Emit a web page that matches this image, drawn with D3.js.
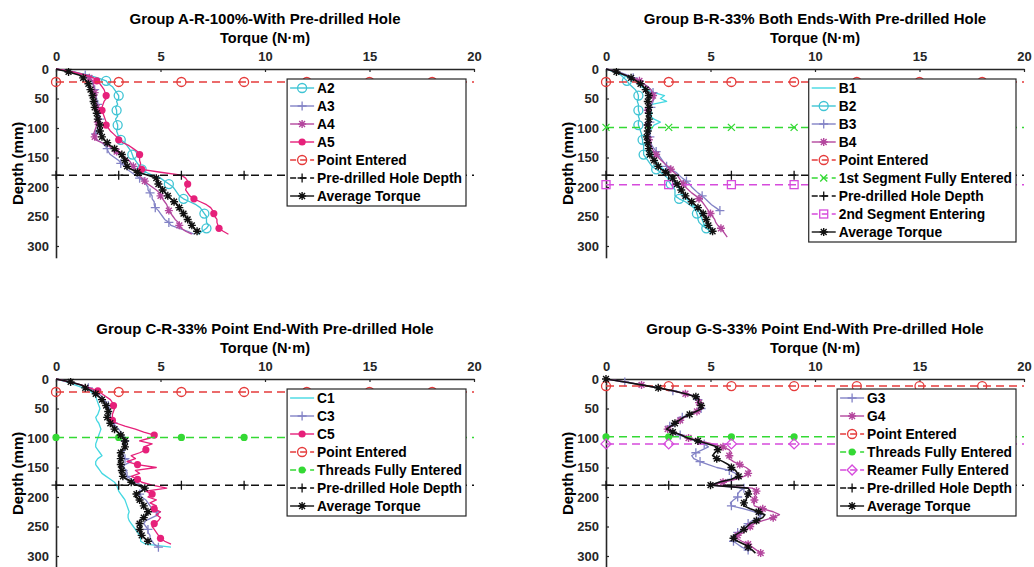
<!DOCTYPE html>
<html><head><meta charset="utf-8">
<script src="https://cdn.jsdelivr.net/npm/d3@7"></script>
<style>
html,body{margin:0;padding:0;background:#fff;}
svg{display:block;font-family:"Liberation Sans",Arial,sans-serif;font-weight:bold;}
</style></head>
<body><svg id="c" width="1034" height="567"></svg>
<script>
// ---------- data (depth step 5 mm, torque in N·m) ----------
const depthStep = 5;
const xTicks = [0, 5, 10, 15, 20];
const yTicks = [0, 50, 100, 150, 200, 250, 300];
const refMarkTorque = [0, 3, 6, 9, 12, 15, 18];

const titles = [
  "Group A-R-100%-With Pre-drilled Hole",
  "Group B-R-33% Both Ends-With Pre-drilled Hole",
  "Group C-R-33% Point End-With Pre-drilled Hole",
  "Group G-S-33% Point End-With Pre-drilled Hole"
];

// Group A
const A2 = [0,0.8,1.5,2.0,2.4,2.5,2.7,2.8,2.9,3.0,3.0,2.9,2.95,2.85,2.9,2.9,2.95,2.85,2.9,2.95,2.95,2.9,2.95,3.0,3.1,3.3,3.4,3.5,3.6,3.65,3.7,3.8,3.9,4.0,4.1,4.3,4.6,5.0,5.2,5.4,5.6,5.7,5.8,5.9,6.1,6.4,6.7,6.9,7.0,7.1,7.2,7.2,7.2,7.3,7.2,7.0,6.8];
const A3 = [0,0.9,1.4,1.6,1.7,1.75,1.8,1.85,1.9,1.9,1.95,1.95,2.0,2.0,2.0,2.05,2.05,2.1,2.1,2.0,2.0,1.95,1.9,1.85,1.95,2.2,2.35,2.45,2.5,2.6,2.8,3.0,3.1,3.3,3.4,3.6,3.8,4.0,4.2,4.3,4.4,4.4,4.5,4.6,4.6,4.7,4.7,4.75,4.9,5.0,5.1,5.2,5.4,5.5,5.9,6.3,6.6];
const A4 = [0,0.8,1.3,1.6,1.75,1.8,1.8,1.85,1.85,1.9,1.9,1.9,1.95,1.95,2.0,2.0,2.0,2.05,2.0,1.95,1.9,1.85,1.8,1.85,1.9,2.2,2.5,2.7,2.9,3.1,3.3,3.5,3.6,3.7,3.8,3.9,4.0,4.1,4.25,4.4,4.6,4.8,4.95,5.0,5.1,5.2,5.3,5.35,5.4,5.5,5.6,5.7,5.85,5.9,6.0,6.2,6.5];
const A5 = [0,0.8,1.4,1.8,1.95,2.1,2.2,2.3,2.35,2.4,2.4,2.3,2.25,2.2,2.2,2.25,2.3,2.35,2.4,2.4,2.5,2.6,2.75,2.9,3.0,3.2,3.5,3.7,3.9,4.0,4.0,4.0,4.05,4.0,4.1,5.0,6.0,6.2,6.3,6.3,6.25,6.2,6.3,6.4,6.6,6.9,7.2,7.4,7.5,7.55,7.6,7.7,7.7,7.75,7.8,8.0,8.25];
const avgA = [0,0.6,1.1,1.3,1.45,1.55,1.6,1.65,1.7,1.75,1.78,1.8,1.85,1.85,1.9,1.95,1.95,2.0,2.05,2.1,2.1,2.1,2.15,2.2,2.3,2.45,2.6,2.8,3.0,3.15,3.25,3.3,3.3,3.4,3.6,3.9,4.4,4.8,4.85,4.9,5.0,5.1,5.25,5.35,5.5,5.65,5.8,5.9,6.0,6.1,6.2,6.3,6.4,6.5,6.6,6.75];
const refDepthA = [22, 180];

// Group B
const B1 = [0,0.4,0.8,1.1,1.3,1.5,1.7,1.9,2.3,2.8,2.6,2.9,2.2,2.0,2.1,2.2,2.1,2.3,2.6,2.3,2.2,2.1,2.1,2.0,2.0,2.05,2.1,2.1,2.15,2.2,2.25,2.35,2.45,2.6,2.75,2.9,3.05,3.15,3.25,3.35,3.45,3.55,3.6,3.7,3.85,4.0,4.15,4.3,4.4,4.5,4.55,4.6,4.65,4.7,4.8,5.0,5.0];
const B2 = [0,0.4,0.7,0.85,1.0,1.1,1.25,1.4,1.5,1.55,1.55,1.5,1.55,1.55,1.55,1.6,1.55,1.6,1.55,1.55,1.6,1.65,1.7,1.7,1.75,1.75,1.8,1.8,1.8,1.8,1.9,2.0,2.1,2.2,2.4,2.6,2.8,2.95,3.0,3.1,3.2,3.3,3.3,3.3,3.5,3.8,4.0,4.2,4.3,4.35,4.4,4.4,4.45,4.6,4.8,5.0];
const B3 = [0,0.6,1.0,1.3,1.55,1.8,2.0,2.15,2.25,2.35,2.3,2.25,2.2,2.15,2.1,2.1,2.1,2.1,2.1,2.1,2.1,2.1,2.1,2.1,2.1,2.15,2.2,2.3,2.4,2.5,2.6,2.7,2.8,2.9,3.1,3.35,3.5,3.65,3.85,4.0,4.1,4.25,4.4,4.6,4.75,4.9,5.05,5.25,5.45];
const B4 = [0,0.5,0.9,1.3,1.6,1.8,2.0,2.15,2.2,2.25,2.3,2.2,2.1,2.05,2.0,2.0,2.0,2.0,2.0,2.0,2.05,2.05,2.05,2.05,2.05,2.1,2.15,2.2,2.3,2.4,2.5,2.65,2.8,2.95,3.1,3.25,3.4,3.5,3.6,3.7,3.8,3.95,4.1,4.3,4.45,4.6,4.7,4.8,4.9,5.0,5.1,5.2,5.25,5.35,5.5,5.6,5.7,5.8];
const avgB = [0,0.5,0.9,1.2,1.45,1.65,1.8,1.9,2.0,2.05,2.05,2.0,2.0,2.05,2.0,2.05,2.0,2.05,2.05,2.0,2.05,2.0,2.0,1.95,1.95,2.0,2.0,2.05,2.05,2.1,2.2,2.3,2.4,2.5,2.65,2.85,3.05,3.2,3.3,3.4,3.5,3.6,3.7,3.8,3.95,4.1,4.25,4.4,4.55,4.65,4.75,4.8,4.85,4.9,5.0,5.1];
const refDepthB = [22, 99, 180, 196];

// Group C
const C1 = [0,0.5,0.9,1.3,1.6,1.8,1.9,1.95,2.0,2.05,2.1,2.05,2.0,1.9,1.95,2.05,2.1,2.15,2.1,2.05,2.0,1.95,1.9,1.9,2.0,2.1,2.2,2.0,1.9,1.9,2.0,2.1,2.2,2.4,2.6,2.8,2.9,2.95,3.0,3.1,3.2,3.3,3.35,3.4,3.45,3.5,3.45,3.45,3.5,3.6,3.7,3.8,3.9,4.0,4.05,4.05,4.3,5.5];
const C3 = [0,0.7,1.2,1.55,1.85,2.05,2.2,2.3,2.4,2.5,2.55,2.6,2.6,2.6,2.65,2.75,2.85,3.0,3.1,3.2,3.3,3.3,3.35,3.3,3.3,3.2,3.2,3.3,3.6,3.3,3.2,3.4,3.3,3.4,3.6,3.8,4.1,4.3,4.0,4.0,4.1,4.3,4.4,4.5,4.6,4.8,4.9,4.6,4.3,4.2,4.3,4.4,4.4,4.5,4.5,4.6,4.7,4.9];
const C5 = [0,0.6,1.2,1.6,2.0,2.2,2.4,2.6,2.7,2.75,2.8,2.75,2.7,2.7,2.7,2.9,3.3,3.8,4.2,4.7,4.5,4.0,4.6,4.2,4.3,4.0,3.6,3.8,3.4,3.9,4.8,3.8,4.0,3.6,3.9,4.1,4.6,5.3,4.3,4.6,4.4,4.8,4.5,4.8,4.7,5.0,4.8,5.0,4.9,4.7,4.6,4.7,4.8,4.9,5.0,5.2,5.5];
const avgC = [0,0.7,1.2,1.4,1.7,1.9,2.05,2.2,2.3,2.4,2.45,2.5,2.5,2.45,2.5,2.6,2.7,2.8,2.95,3.1,3.25,3.3,3.2,3.3,3.15,3.1,3.05,3.1,3.05,3.1,3.05,3.15,3.1,3.2,3.4,3.6,3.9,4.25,4.1,3.85,3.8,4.0,4.15,4.2,4.3,4.4,4.35,4.2,4.0,4.0,4.05,4.0,4.05,4.1,4.25,4.4];
const refDepthC = [22, 99, 180];

// Group G
const G3 = [0,0.9,1.7,2.5,3.2,3.8,4.3,4.4,4.35,4.5,4.55,4.25,3.95,3.65,3.45,3.25,3.05,2.85,3.15,3.55,3.85,4.3,4.7,4.9,4.6,4.3,4.1,4.2,4.5,4.9,5.3,5.9,6.2,6.3,6.0,5.4,5.0,6.6,6.4,6.3,6.3,6.1,5.95,6.0,6.6,7.1,7.4,7.3,7.0,6.8,6.6,6.5,6.3,6.1,6.0,6.1,6.3,6.5,6.8];
const G4 = [0,0.9,1.7,2.5,3.2,3.8,4.3,4.5,4.45,4.6,4.65,4.35,4.05,3.75,3.55,3.35,3.15,2.95,3.25,3.65,3.95,4.5,5.1,5.6,5.9,6.0,5.9,5.9,6.1,6.4,6.7,6.9,6.8,6.6,6.2,5.6,5.1,7.0,7.2,7.1,7.2,7.1,7.05,7.1,7.5,8.0,8.3,8.0,7.5,7.1,6.9,6.75,6.6,6.3,6.25,6.5,6.8,7.0,7.2,7.4];
const avgG = [0,0.9,1.7,2.5,3.2,3.8,4.3,4.45,4.4,4.55,4.6,4.3,4.0,3.7,3.5,3.3,3.1,2.9,3.2,3.6,3.9,4.4,4.9,5.3,5.35,5.2,5.1,5.3,5.6,5.85,6.0,6.2,6.3,6.35,6.0,5.4,5.0,6.8,6.9,6.8,6.75,6.7,6.6,6.6,6.9,7.3,7.6,7.5,7.2,6.9,6.75,6.6,6.4,6.15,6.1,6.3,6.6,6.8,7.0,7.15];
const refDepthG = [12, 98, 110, 180];

// ---------- styles ----------
const COL = {cyan:"#3fc4d4", cyanL:"#45d8e2", lav:"#8383c6", pur:"#b4479e", pink:"#e6207a",
             red:"#e53b3b", green:"#34d934", mag:"#d64bdc", black:"#111"};

const panels = [
  {x0:56, y0:69, title:titles[0],
   series:[
     {name:"A2", v:A2, color:COL.cyan, m:"o", every:5, off:4},
     {name:"A3", v:A3, color:COL.lav, m:"+", every:5, off:2},
     {name:"A4", v:A4, color:COL.pur, m:"*", every:5, off:3},
     {name:"A5", v:A5, color:COL.pink, m:".", every:5, off:4}],
   refs:[
     {name:"Point Entered", d:refDepthA[0], color:COL.red, m:"o"},
     {name:"Pre-drilled Hole Depth", d:refDepthA[1], color:COL.black, m:"+"}],
   avg:{name:"Average Torque", v:avgA, color:COL.black, m:"*", every:2, off:1}},
  {x0:606, y0:69, title:titles[1],
   series:[
     {name:"B1", v:B1, color:COL.cyanL, m:null},
     {name:"B2", v:B2, color:COL.cyan, m:"o", every:5, off:4},
     {name:"B3", v:B3, color:COL.lav, m:"+", every:5, off:3},
     {name:"B4", v:B4, color:COL.pur, m:"*", every:5, off:4}],
   refs:[
     {name:"Point Entered", d:refDepthB[0], color:COL.red, m:"o"},
     {name:"1st Segment Fully Entered", d:refDepthB[1], color:COL.green, m:"x"},
     {name:"Pre-drilled Hole Depth", d:refDepthB[2], color:COL.black, m:"+"},
     {name:"2nd Segment Entering", d:refDepthB[3], color:COL.mag, m:"s"}],
   avg:{name:"Average Torque", v:avgB, color:COL.black, m:"*", every:2, off:1}},
  {x0:56, y0:379, title:titles[2],
   series:[
     {name:"C1", v:C1, color:COL.cyanL, m:null},
     {name:"C3", v:C3, color:COL.lav, m:"+", every:6, off:3},
     {name:"C5", v:C5, color:COL.pink, m:".", every:5, off:4}],
   refs:[
     {name:"Point Entered", d:refDepthC[0], color:COL.red, m:"o"},
     {name:"Threads Fully Entered", d:refDepthC[1], color:COL.green, m:"."},
     {name:"Pre-drilled Hole Depth", d:refDepthC[2], color:COL.black, m:"+"}],
   avg:{name:"Average Torque", v:avgC, color:COL.black, m:"*", every:2, off:1}},
  {x0:606, y0:379, title:titles[3],
   series:[
     {name:"G3", v:G3, color:COL.lav, m:"+", every:3, off:1},
     {name:"G4", v:G4, color:COL.pur, m:"*", every:3, off:2}],
   refs:[
     {name:"Point Entered", d:refDepthG[0], color:COL.red, m:"o"},
     {name:"Threads Fully Entered", d:refDepthG[1], color:COL.green, m:"."},
     {name:"Reamer Fully Entered", d:refDepthG[2], color:COL.mag, m:"d"},
     {name:"Pre-drilled Hole Depth", d:refDepthG[3], color:COL.black, m:"+"}],
   avg:{name:"Average Torque", v:avgG, color:COL.black, m:"*", every:3, off:0}}
];

const svg = d3.select("#c");
const AX = "#262626";

function marker(g, type, x, y, color) {
  const sw = 1.3;
  if (type === "o") {
    g.append("circle").attr("cx", x).attr("cy", y).attr("r", 4.5)
      .attr("fill", "none").attr("stroke", color).attr("stroke-width", sw);
  } else if (type === ".") {
    g.append("circle").attr("cx", x).attr("cy", y).attr("r", 3.6).attr("fill", color);
  } else if (type === "+") {
    g.append("path").attr("d", `M${x-4.5},${y}H${x+4.5}M${x},${y-4.5}V${y+4.5}`)
      .attr("stroke", color).attr("stroke-width", sw).attr("fill", "none");
  } else if (type === "x") {
    const r = 3.5;
    g.append("path").attr("d", `M${x-r},${y-r}L${x+r},${y+r}M${x-r},${y+r}L${x+r},${y-r}`)
      .attr("stroke", color).attr("stroke-width", sw).attr("fill", "none");
  } else if (type === "*") {
    const r = 4, q = 2.9;
    g.append("path").attr("d", `M${x-r},${y}H${x+r}M${x},${y-r}V${y+r}M${x-q},${y-q}L${x+q},${y+q}M${x-q},${y+q}L${x+q},${y-q}`)
      .attr("stroke", color).attr("stroke-width", 1.4).attr("fill", "none");
  } else if (type === "s") {
    g.append("rect").attr("x", x-4).attr("y", y-4).attr("width", 8).attr("height", 8)
      .attr("fill", "none").attr("stroke", color).attr("stroke-width", sw);
  } else if (type === "d") {
    const r = 5;
    g.append("path").attr("d", `M${x},${y-r}L${x+r},${y}L${x},${y+r}L${x-r},${y}Z`)
      .attr("fill", "none").attr("stroke", color).attr("stroke-width", sw);
  }
}

panels.forEach(p => {
  const x = d3.scaleLinear().domain([0, 20]).range([p.x0, p.x0 + 418]);
  const y = d3.scaleLinear().domain([0, 320]).range([p.y0, p.y0 + 188.8]);
  const g = svg.append("g");
  const cx = (p.x0 + p.x0 + 418) / 2;

  // titles
  g.append("text").attr("x", cx).attr("y", p.y0 - 45).attr("text-anchor", "middle")
    .attr("font-size", 15).attr("fill", "#000").text(p.title);
  g.append("text").attr("x", cx).attr("y", p.y0 - 26).attr("text-anchor", "middle")
    .attr("font-size", 14.5).attr("fill", "#000").text("Torque (N·m)");
  g.append("text").attr("transform", `translate(${p.x0 - 33},${(p.y0 + p.y0 + 188.8) / 2}) rotate(-90)`)
    .attr("text-anchor", "middle").attr("font-size", 15).attr("fill", "#000").text("Depth (mm)");

  // axes
  const xa = g.append("g").attr("transform", `translate(0,${p.y0})`)
    .call(d3.axisTop(x).tickValues(xTicks).tickSizeInner(-3).tickSizeOuter(0).tickPadding(8));
  const ya = g.append("g").attr("transform", `translate(${p.x0},0)`)
    .call(d3.axisLeft(y).tickValues(yTicks).tickSizeInner(-3).tickSizeOuter(0).tickPadding(7));
  [xa, ya].forEach(a => {
    a.select(".domain").attr("stroke", AX).attr("stroke-width", 1.6);
    a.selectAll(".tick line").attr("stroke", AX).attr("stroke-width", 1.2);
    a.selectAll(".tick text").attr("font-size", 13).attr("font-family", "Liberation Sans, Arial, sans-serif")
      .attr("font-weight", "bold").attr("fill", AX);
  });

  const line = d3.line().x(v => x(v)).y((v, i) => y(i * depthStep));
  const drawSeries = s => {
    g.append("path").datum(s.v).attr("d", line).attr("fill", "none")
      .attr("stroke", s.color).attr("stroke-width", s === p.avg ? 1.6 : 1.3).attr("stroke-linejoin", "round");
    if (s.m) {
      s.v.forEach((v, i) => {
        if (i >= s.off && (i - s.off) % s.every === 0) marker(g, s.m, x(v), y(i * depthStep), s.color);
      });
    }
  };
  p.series.forEach(drawSeries);
  p.refs.forEach(r => {
    g.append("line").attr("x1", x(0)).attr("x2", x(20)).attr("y1", y(r.d)).attr("y2", y(r.d))
      .attr("stroke", r.color).attr("stroke-width", 1.5).attr("stroke-dasharray", "8,5");
    refMarkTorque.forEach(t => marker(g, r.m, x(t), y(r.d), r.color));
  });
  drawSeries(p.avg);

  // legend
  const entries = [...p.series.map(s => ({...s, dashed:false})),
                   ...p.refs.map(r => ({...r, dashed:true})),
                   {...p.avg, dashed:false}];
  const lg = g.append("g");
  const right = p.x0 + 410, top = p.y0 + 10;
  const box = lg.append("rect");
  const texts = entries.map((e, i) => lg.append("text").attr("y", top + 9 + i * 18 + 5)
    .attr("font-size", 13.8).attr("fill", "#000").text(e.name));
  const W = d3.max(texts, t => t.node().getComputedTextLength());
  const left = right - 4 - W - 30;
  box.attr("x", left).attr("y", top).attr("width", right - left).attr("height", entries.length * 18 + 1)
    .attr("fill", "#fff").attr("stroke", AX).attr("stroke-width", 1.2);
  texts.forEach(t => t.attr("x", left + 30));
  entries.forEach((e, i) => {
    const yy = top + 9 + i * 18;
    lg.append("line").attr("x1", left + 3).attr("x2", left + 27).attr("y1", yy).attr("y2", yy)
      .attr("stroke", e.color).attr("stroke-width", 1.4).attr("stroke-dasharray", e.dashed ? "6,4" : null);
    if (e.m) marker(lg, e.m, left + 15, yy, e.color);
  });
});
</script></body></html>
